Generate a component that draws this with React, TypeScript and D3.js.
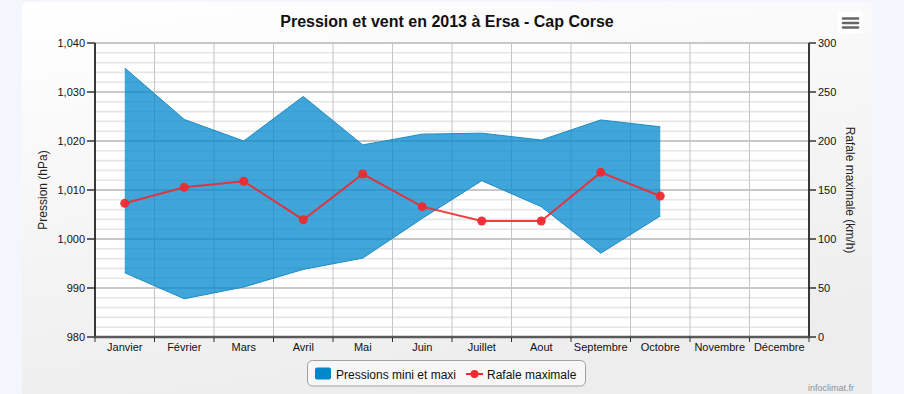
import React from 'react';
import * as d3 from 'd3';

// Données (Ersa - Cap Corse, 2013)
const months = ['Janvier', 'Février', 'Mars', 'Avril', 'Mai', 'Juin', 'Juillet', 'Aout', 'Septembre', 'Octobre', 'Novembre', 'Décembre'];
const pressionMax = [1034.9, 1024.4, 1020.0, 1029.1, 1019.2, 1021.4, 1021.6, 1020.2, 1024.3, 1022.9];
const pressionMin = [993.1, 987.8, 990.2, 993.8, 996.1, 1004.2, 1011.9, 1006.6, 997.1, 1004.7];
const rafale = [136.4, 152.7, 158.9, 119.7, 166.3, 133.0, 118.4, 118.4, 168.0, 143.9];

const pressionTicks = [980, 990, 1000, 1010, 1020, 1030, 1040];
const rafaleTicks = [0, 50, 100, 150, 200, 250, 300];

const W = 904;
const H = 394;
const FONT = '"Liberation Sans", Arial, sans-serif';
const BLUE = '#0088cc';
const RED = '#ee2a30';

export default function App() {
    const plot = { left: 95, right: 809, top: 43, bottom: 337 };

    const x = d3.scaleBand<string>().domain(months).range([plot.left, plot.right]).padding(0);
    const cx = (i: number) => (x(months[i]) ?? 0) + x.bandwidth() / 2;
    const yP = d3.scaleLinear().domain([980, 1040]).range([plot.bottom, plot.top]);
    const yR = d3.scaleLinear().domain([0, 300]).range([plot.bottom, plot.top]);

    const minorTicks = d3.range(980, 1040.01, 2).filter((v) => v % 10 !== 0);

    const rows = pressionMax.map((hi, i) => ({ i, hi, lo: pressionMin[i] }));
    const area = d3
        .area<{ i: number; hi: number; lo: number }>()
        .x((d) => cx(d.i))
        .y0((d) => yP(d.lo))
        .y1((d) => yP(d.hi));
    const upper = d3.line<{ i: number; hi: number; lo: number }>().x((d) => cx(d.i)).y((d) => yP(d.hi));
    const lower = d3.line<{ i: number; hi: number; lo: number }>().x((d) => cx(d.i)).y((d) => yP(d.lo));
    const windLine = d3.line<number>().x((_, i) => cx(i)).y((d) => yR(d));

    const boundaries = months.map((m) => x(m) ?? 0).concat([plot.right]);

    return (
        <svg
            width={W}
            height={H}
            style={{ position: 'absolute', left: 0, top: 0, fontFamily: FONT }}
        >
            <defs>
                <linearGradient id="bg" x1="0" y1="0" x2="0.3" y2="1">
                    <stop offset="0" stopColor="#ffffff" />
                    <stop offset="1" stopColor="#ededed" />
                </linearGradient>
            </defs>
            <rect x={0} y={0} width={W} height={H} fill="#f3f7fd" />
            <rect x={22} y={2} width={850} height={H + 10} rx={5} fill="url(#bg)" />

            {/* titre */}
            <text x={447} y={27} textAnchor="middle" fontSize={16} fontWeight="bold" fill="#111">
                Pression et vent en 2013 à Ersa - Cap Corse
            </text>

            {/* bouton menu */}
            <rect x={838} y={12} width={25} height={22} rx={3} fill="#ffffff" />
            {[18.5, 23, 27.5].map((yy) => (
                <line key={yy} x1={843} x2={858} y1={yy} y2={yy} stroke="#666" strokeWidth={2.6} strokeLinecap="round" />
            ))}

            {/* zone de tracé */}
            <rect x={plot.left} y={plot.top} width={plot.right - plot.left} height={plot.bottom - plot.top} fill="#ffffff" />

            {minorTicks.map((v) => (
                <line key={'m' + v} x1={plot.left} x2={plot.right} y1={yP(v)} y2={yP(v)} stroke="#e6e6e6" strokeWidth={1.6} />
            ))}
            {pressionTicks.map((v) => (
                <line key={'M' + v} x1={plot.left} x2={plot.right} y1={yP(v)} y2={yP(v)} stroke="#c8c8c8" strokeWidth={2} />
            ))}
            {boundaries.map((bx, i) => (
                <line key={'v' + i} x1={bx} x2={bx} y1={plot.top} y2={plot.bottom} stroke="#c4c4c4" strokeWidth={1} />
            ))}

            {/* pressions mini et maxi */}
            <path d={area(rows) ?? ''} fill={BLUE} fillOpacity={0.75} />
            <path d={upper(rows) ?? ''} fill="none" stroke="#1b8bc6" strokeWidth={1} />
            <path d={lower(rows) ?? ''} fill="none" stroke="#1b8bc6" strokeWidth={1} />

            {/* rafale maximale */}
            <path d={windLine(rafale) ?? ''} fill="none" stroke={RED} strokeWidth={2} strokeOpacity={0.9} />
            {rafale.map((v, i) => (
                <circle key={'p' + i} cx={cx(i)} cy={yR(v)} r={4.5} fill={RED} fillOpacity={0.95} />
            ))}

            {/* axes */}
            <line x1={plot.left} x2={plot.left} y1={plot.top} y2={plot.bottom} stroke="#000" strokeWidth={1.5} />
            <line x1={plot.right} x2={plot.right} y1={plot.top} y2={plot.bottom} stroke="#000" strokeWidth={1.5} />
            <line x1={plot.left - 1} x2={plot.right + 1} y1={plot.bottom} y2={plot.bottom} stroke="#5a5a5a" strokeWidth={2.5} />

            {pressionTicks.map((v) => (
                <g key={'lt' + v}>
                    <line x1={plot.left - 8} x2={plot.left} y1={yP(v)} y2={yP(v)} stroke="#333" strokeWidth={1.5} />
                    <text x={plot.left - 10} y={yP(v) + 4} textAnchor="end" fontSize={11} fill="#111">
                        {d3.format(',')(v)}
                    </text>
                </g>
            ))}
            {rafaleTicks.map((v) => (
                <g key={'rt' + v}>
                    <line x1={plot.right} x2={plot.right + 7} y1={yR(v)} y2={yR(v)} stroke="#333" strokeWidth={1.5} />
                    <text x={plot.right + 9} y={yR(v) + 4} fontSize={11} fill="#111">
                        {v}
                    </text>
                </g>
            ))}
            {boundaries.map((bx, i) => (
                <line key={'bt' + i} x1={bx} x2={bx} y1={plot.bottom} y2={plot.bottom + 5} stroke="#333" strokeWidth={1} />
            ))}
            {months.map((m, i) => (
                <text key={m} x={cx(i)} y={351} textAnchor="middle" fontSize={11} fill="#111">
                    {m}
                </text>
            ))}

            <text transform={`translate(47,${(plot.top + plot.bottom) / 2}) rotate(-90)`} textAnchor="middle" fontSize={12} fill="#222">
                Pression (hPa)
            </text>
            <text transform={`translate(846,${(plot.top + plot.bottom) / 2}) rotate(90)`} textAnchor="middle" fontSize={12} fill="#222">
                Rafale maximale (km/h)
            </text>

            {/* légende */}
            <rect x={307.5} y={360.5} width={278} height={25.5} rx={5} fill="#f7f7f7" stroke="#a0a0a0" strokeWidth={1} />
            <rect x={315} y={367.5} width={16} height={12} rx={2} fill={BLUE} />
            <text x={336} y={379} fontSize={12} fill="#111">Pressions mini et maxi</text>
            <line x1={466} x2={483} y1={374} y2={374} stroke={RED} strokeWidth={2} />
            <circle cx={474.5} cy={374} r={4} fill={RED} />
            <text x={487} y={379} fontSize={12} fill="#111">Rafale maximale</text>

            <text x={808} y={391} fontSize={9} fill="#909090">infoclimat.fr</text>
        </svg>
    );
}
